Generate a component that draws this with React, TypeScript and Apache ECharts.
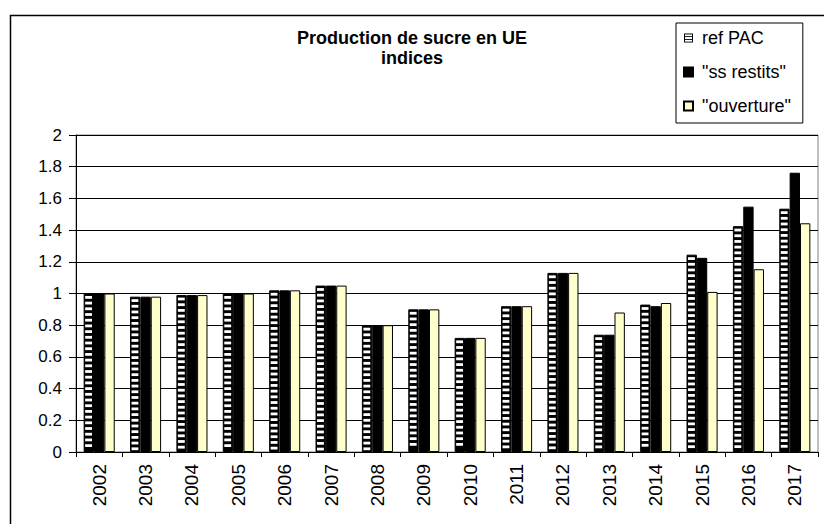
import React, { useEffect, useRef } from "react";
import * as echarts from "echarts";

const years = ["2002", "2003", "2004", "2005", "2006", "2007", "2008", "2009", "2010", "2011", "2012", "2013", "2014", "2015", "2016", "2017"];
const refPAC = [1, 0.98, 0.99, 1.0, 1.02, 1.05, 0.8, 0.9, 0.72, 0.92, 1.13, 0.74, 0.93, 1.245, 1.425, 1.535];
const ssRestits = [1, 0.98, 0.99, 1.0, 1.02, 1.05, 0.8, 0.9, 0.72, 0.92, 1.13, 0.74, 0.92, 1.225, 1.548, 1.762];
const ouverture = [1, 0.98, 0.99, 1.0, 1.02, 1.05, 0.8, 0.9, 0.72, 0.92, 1.13, 0.88, 0.94, 1.01, 1.153, 1.443];
const seriesNames = ["ref PAC", "\"ss restits\"", "\"ouverture\""];
const titleText = "Production de sucre en UE\nindices";

const FONT = "'Liberation Sans', Arial, sans-serif";
const CAT_GAP = 0.33;

function makeRefIcon(): string {
  const c = document.createElement("canvas");
  c.width = 10;
  c.height = 10;
  const ctx = c.getContext("2d");
  if (!ctx) return "rect";
  ctx.fillStyle = "#000";
  ctx.fillRect(0, 0, 10, 10);
  ctx.fillStyle = "#fff";
  ctx.fillRect(1, 1, 8, 2);
  ctx.fillRect(1, 4, 8, 2);
  ctx.fillRect(1, 7, 8, 2);
  return "image://" + c.toDataURL();
}

export default function App() {
  const ref = useRef<HTMLDivElement>(null);
  useEffect(() => {
    if (!ref.current) return;
    const chart = echarts.init(ref.current, null, { renderer: "svg" });
    const refIcon = makeRefIcon();
    chart.setOption({
      animation: false,
      backgroundColor: "#fff",
      textStyle: { fontFamily: FONT },
      title: {
        text: titleText,
        left: "center",
        top: 23,
        padding: [5, 0, 5, 8],
        textStyle: { fontFamily: FONT, fontSize: 18, fontWeight: "bold", color: "#000", lineHeight: 20 },
      },
      legend: {
        orient: "vertical",
        left: 676,
        top: 23,
        backgroundColor: "#fff",
        borderColor: "#000",
        borderWidth: 1,
        borderRadius: 0,
        padding: [5, 12, 7, 7],
        itemGap: 14,
        itemWidth: 9,
        itemHeight: 9,
        selectedMode: false,
        textStyle: { fontFamily: FONT, fontSize: 18, color: "#000", lineHeight: 20, padding: [0, 0, 0, 4] },
        data: [
          { name: seriesNames[0], icon: refIcon },
          { name: seriesNames[1], icon: "rect" },
          { name: seriesNames[2], icon: "rect" },
        ],
      },
      grid: {
        left: 76,
        right: 6,
        top: 135,
        bottom: 72,
        show: true,
        borderColor: "#808080",
        borderWidth: 1,
        backgroundColor: "transparent",
      },
      xAxis: {
        type: "category",
        data: years,
        axisLine: { show: true, lineStyle: { color: "#000", width: 1 } },
        axisTick: { show: true, length: 5, alignWithLabel: false, lineStyle: { color: "#000" } },
        axisLabel: { rotate: 90, fontSize: 19, color: "#000", margin: 12, fontFamily: FONT },
        splitLine: { show: false },
      },
      yAxis: {
        type: "value",
        min: 0,
        max: 2,
        interval: 0.2,
        axisLine: { show: true, lineStyle: { color: "#000", width: 1 } },
        axisTick: { show: true, length: 7, lineStyle: { color: "#000" } },
        axisLabel: { fontSize: 17, color: "#000", margin: 14, fontFamily: FONT },
        splitLine: { show: true, lineStyle: { color: "#000", width: 1 } },
      },
      graphic: [
        {
          type: "rect",
          silent: true,
          z: -1,
          shape: { x: 10.5, y: 15.5, width: 840, height: 540 },
          style: { fill: "none", stroke: "#000", lineWidth: 1.5 },
        },
      ],
      series: [
        {
          name: seriesNames[0],
          type: "bar",
          data: refPAC,
          barGap: "0%",
          barCategoryGap: CAT_GAP * 100 + "%",
          itemStyle: { color: "#000", borderColor: "#000", borderWidth: 1 },
        },
        {
          name: seriesNames[1],
          type: "bar",
          data: ssRestits,
          barGap: "0%",
          barCategoryGap: CAT_GAP * 100 + "%",
          itemStyle: { color: "#000", borderColor: "#000", borderWidth: 1 },
        },
        {
          name: seriesNames[2],
          type: "bar",
          data: ouverture,
          barGap: "0%",
          barCategoryGap: CAT_GAP * 100 + "%",
          itemStyle: { color: "#FFFFCC", borderColor: "#000", borderWidth: 1 },
        },
        {
          name: "refStripes",
          type: "custom",
          silent: true,
          z: 5,
          data: refPAC.map((v, i) => [i, v]),
          encode: { x: 0, y: 1 },
          renderItem: (params: any, api: any) => {
            const i = api.value(0);
            const v = api.value(1);
            const top = api.coord([i, v]);
            const base = api.coord([i, 0]);
            const band = api.size([1, 0])[0];
            const usable = band * (1 - CAT_GAP);
            const bw = usable / 3;
            const x0 = base[0] - usable / 2;
            const children: any[] = [];
            for (let y = top[1] + 2.5; y + 2.8 <= base[1] - 1.5; y += 5.7) {
              children.push({
                type: "rect",
                shape: { x: x0 + 1.5, y, width: bw - 3.5, height: 2.8 },
                style: { fill: "#fff" },
              });
            }
            return { type: "group", children };
          },
        },
      ],
    });
    return () => chart.dispose();
  }, []);
  return <div ref={ref} style={{ position: "fixed", left: 0, top: 0, width: 824, height: 524 }} />;
}
